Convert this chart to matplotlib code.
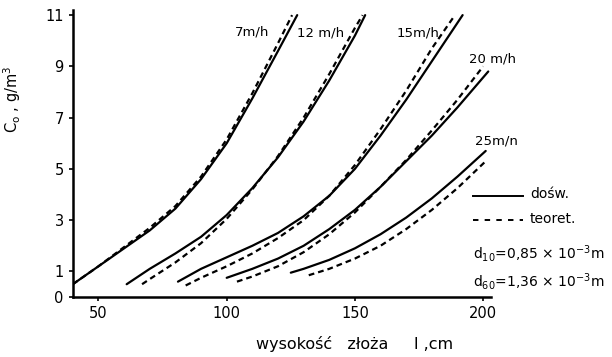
import matplotlib
matplotlib.use("Agg")
import matplotlib.pyplot as plt

# bed height l [cm] vs concentration Co [g/m3], measured (solid) and theoretical (dashed)
x_7_dosw = [40, 50, 60, 70, 80, 90, 100, 110, 120, 127.5]
y_7_dosw = [0.5, 1.2, 1.9, 2.6, 3.45, 4.6, 6.0, 7.75, 9.6, 11.0]
x_7_teor = [40, 50, 60, 70, 80, 90, 100, 110, 120, 125.5]
y_7_teor = [0.5, 1.2, 1.95, 2.7, 3.55, 4.7, 6.15, 7.95, 9.9, 11.0]

x_12_dosw = [61, 70, 80, 90, 100, 110, 120, 130, 140, 150, 154]
y_12_dosw = [0.5, 1.1, 1.7, 2.35, 3.2, 4.25, 5.45, 6.85, 8.45, 10.2, 11.0]
x_12_teor = [67, 70, 80, 90, 100, 110, 120, 130, 140, 150, 153]
y_12_teor = [0.5, 0.7, 1.35, 2.1, 3.05, 4.2, 5.5, 7.0, 8.7, 10.5, 11.0]

x_15_dosw = [81, 90, 100, 110, 120, 130, 140, 150, 160, 170, 180, 192]
y_15_dosw = [0.6, 1.1, 1.55, 2.0, 2.5, 3.15, 3.95, 5.0, 6.3, 7.7, 9.2, 11.0]
x_15_teor = [84, 90, 100, 110, 120, 130, 140, 150, 160, 170, 180, 189]
y_15_teor = [0.45, 0.75, 1.2, 1.7, 2.3, 3.0, 3.95, 5.15, 6.55, 8.05, 9.7, 11.0]

x_20_dosw = [100, 110, 120, 130, 140, 150, 160, 170, 180, 190, 202]
y_20_dosw = [0.75, 1.1, 1.5, 2.0, 2.65, 3.4, 4.3, 5.3, 6.3, 7.4, 8.8]
x_20_teor = [104, 110, 120, 130, 140, 150, 160, 170, 180, 190, 200]
y_20_teor = [0.6, 0.8, 1.2, 1.75, 2.45, 3.3, 4.3, 5.35, 6.5, 7.7, 9.0]

x_25_dosw = [125, 130, 140, 150, 160, 170, 180, 190, 201]
y_25_dosw = [0.95, 1.1, 1.45, 1.9, 2.45, 3.1, 3.85, 4.7, 5.7]
x_25_teor = [132, 140, 150, 160, 170, 180, 190, 201]
y_25_teor = [0.85, 1.1, 1.5, 2.0, 2.65, 3.4, 4.25, 5.3]

speed_labels = ["7m/h", "12 m/h", "15m/h", "20 m/h", "25m/n"]
label_pos = [(110, 10.35), (136.5, 10.3), (174.5, 10.3), (203.5, 9.3), (205, 6.1)]

x_ticks = [50, 100, 150, 200]
y_ticks = [0, 1, 3, 5, 7, 9, 11]

fig = plt.figure(figsize=(6.12, 3.57), dpi=100)
ax = fig.add_axes([0.119, 0.168, 0.683, 0.804])

curves = [
    (x_7_dosw, y_7_dosw, x_7_teor, y_7_teor),
    (x_12_dosw, y_12_dosw, x_12_teor, y_12_teor),
    (x_15_dosw, y_15_dosw, x_15_teor, y_15_teor),
    (x_20_dosw, y_20_dosw, x_20_teor, y_20_teor),
    (x_25_dosw, y_25_dosw, x_25_teor, y_25_teor),
]
for xd, yd, xt, yt in curves:
    ax.plot(xd, yd, color="black", lw=1.6, solid_capstyle="round", solid_joinstyle="round")
    ax.plot(xt, yt, color="black", lw=1.6, dashes=(2.6, 1.8))

for txt, (lx, ly) in zip(speed_labels, label_pos):
    ax.text(lx, ly, txt, fontsize=9.5, ha="center", va="center", clip_on=False)

ax.set_xlim(40, 203)
ax.set_ylim(0, 11.2)
ax.set_xticks(x_ticks)
ax.set_yticks(y_ticks)
ax.tick_params(labelsize=10.5, length=3, width=1.2, direction="out")
for side in ["top", "right"]:
    ax.spines[side].set_visible(False)
for side in ["left", "bottom"]:
    ax.spines[side].set_linewidth(1.8)

ax.set_xlabel("wysokość   złoża     l ,cm", fontsize=11.5)
ax.xaxis.set_label_coords(0.675, -0.135)
ax.set_ylabel("C$_\\mathrm{o}$ , g/m$^3$", fontsize=10.5)
ax.yaxis.set_label_coords(-0.12, 0.69)

# legend and grain-size notes drawn by hand at the right
fig.lines.append(plt.Line2D([473 / 612, 523 / 612], [1 - 196 / 357] * 2,
                            color="black", lw=1.4, transform=fig.transFigure))
fig.lines.append(plt.Line2D([473 / 612, 523 / 612], [1 - 220 / 357] * 2,
                            color="black", lw=1.4, dashes=(2.8, 3.2), transform=fig.transFigure))
fig.text(530 / 612, 1 - 194 / 357, "dośw.", fontsize=10, va="center")
fig.text(530 / 612, 1 - 219 / 357, "teoret.", fontsize=10, va="center")
fig.text(473 / 612, 1 - 254 / 357, "d$_{10}$=0,85 × 10$^{-3}$m", fontsize=10, va="center")
fig.text(473 / 612, 1 - 282 / 357, "d$_{60}$=1,36 × 10$^{-3}$m", fontsize=10, va="center")

fig.savefig("out.png", dpi=100)
